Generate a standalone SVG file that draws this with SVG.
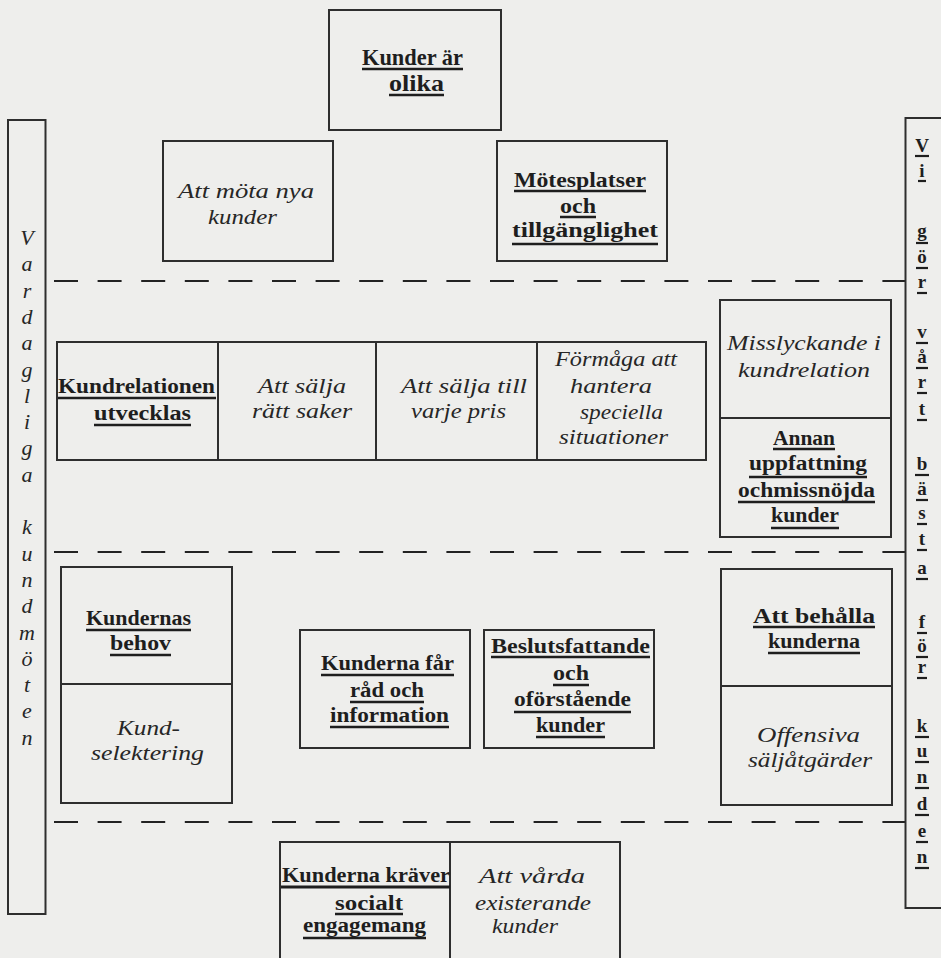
<svg xmlns="http://www.w3.org/2000/svg" width="941" height="958" viewBox="0 0 941 958">
<style>
.bg{fill:#eeeeec}
.box{fill:none;stroke:#2e2e2e;stroke-width:2}
.div{stroke:#2e2e2e;stroke-width:2}
.h{font-family:"Liberation Serif",serif;font-weight:bold;font-size:20px;fill:#1e1e1e}
.ht{font-family:"Liberation Serif",serif;font-weight:bold;font-size:23px;fill:#1e1e1e}
.i{font-family:"Liberation Serif",serif;font-style:italic;font-size:21px;fill:#262626}
.v{font-family:"Liberation Serif",serif;font-style:italic;font-size:22px;fill:#262626;text-anchor:middle}
.r{font-family:"Liberation Serif",serif;font-weight:bold;font-size:19px;fill:#1e1e1e;text-anchor:middle}
.ul{stroke:#1e1e1e;stroke-width:2.6}
.uls{stroke:#1e1e1e;stroke-width:2.2}
.dash{stroke:#222;stroke-width:2;stroke-dasharray:24 19.6;fill:none}
</style>
<rect class="bg" x="0" y="0" width="941" height="958"/>

<g id="dividers">
<line class="dash" x1="54" y1="281" x2="906" y2="281"/>
<line class="dash" x1="54" y1="552" x2="906" y2="552"/>
<line class="dash" x1="54" y1="822" x2="906" y2="822"/>
</g>

<g id="node-vardagliga">
<rect class="box" x="8" y="120" width="37.5" height="794"/>
<text class="v" x="27" y="245">V</text>
<text class="v" x="27" y="271.3">a</text>
<text class="v" x="27" y="297.6">r</text>
<text class="v" x="27" y="323.9">d</text>
<text class="v" x="27" y="350.2">a</text>
<text class="v" x="27" y="376.5">g</text>
<text class="v" x="27" y="402.8">l</text>
<text class="v" x="27" y="429.1">i</text>
<text class="v" x="27" y="455.4">g</text>
<text class="v" x="27" y="481.7">a</text>
<text class="v" x="27" y="534.3">k</text>
<text class="v" x="27" y="560.6">u</text>
<text class="v" x="27" y="586.9">n</text>
<text class="v" x="27" y="613.2">d</text>
<text class="v" x="27" y="639.5">m</text>
<text class="v" x="27" y="665.8">ö</text>
<text class="v" x="27" y="692.1">t</text>
<text class="v" x="27" y="718.4">e</text>
<text class="v" x="27" y="744.7">n</text>
</g>

<g id="node-vi-gor">
<rect class="box" x="905.5" y="118" width="60" height="790"/>
<text class="r" x="922" y="152">V</text><line class="uls" x1="915" y1="156" x2="929" y2="156"/>
<text class="r" x="922" y="177">i</text><line class="uls" x1="918" y1="181" x2="926" y2="181"/>
<text class="r" x="922" y="237">g</text><line class="uls" x1="916" y1="243" x2="928" y2="243"/>
<text class="r" x="922" y="263">ö</text><line class="uls" x1="916" y1="268" x2="928" y2="268"/>
<text class="r" x="922" y="288">r</text><line class="uls" x1="917" y1="293" x2="927" y2="293"/>
<text class="r" x="922" y="338">v</text><line class="uls" x1="916" y1="343" x2="928" y2="343"/>
<text class="r" x="922" y="363">å</text><line class="uls" x1="916" y1="368" x2="928" y2="368"/>
<text class="r" x="922" y="388">r</text><line class="uls" x1="917" y1="393" x2="927" y2="393"/>
<text class="r" x="922" y="415">t</text><line class="uls" x1="917" y1="420" x2="927" y2="420"/>
<text class="r" x="922" y="470">b</text><line class="uls" x1="915" y1="475" x2="929" y2="475"/>
<text class="r" x="922" y="495">ä</text><line class="uls" x1="916" y1="500" x2="928" y2="500"/>
<text class="r" x="922" y="519">s</text><line class="uls" x1="917" y1="524" x2="927" y2="524"/>
<text class="r" x="922" y="545">t</text><line class="uls" x1="917" y1="550" x2="927" y2="550"/>
<text class="r" x="922" y="574">a</text><line class="uls" x1="916" y1="579" x2="928" y2="579"/>
<text class="r" x="922" y="628">f</text><line class="uls" x1="917" y1="633" x2="927" y2="633"/>
<text class="r" x="922" y="652">ö</text><line class="uls" x1="916" y1="657" x2="928" y2="657"/>
<text class="r" x="922" y="673">r</text><line class="uls" x1="917" y1="678" x2="927" y2="678"/>
<text class="r" x="922" y="732">k</text><line class="uls" x1="915" y1="737" x2="929" y2="737"/>
<text class="r" x="922" y="757">u</text><line class="uls" x1="915" y1="762" x2="929" y2="762"/>
<text class="r" x="922" y="783">n</text><line class="uls" x1="915" y1="788" x2="929" y2="788"/>
<text class="r" x="922" y="810">d</text><line class="uls" x1="915" y1="815" x2="929" y2="815"/>
<text class="r" x="922" y="837">e</text><line class="uls" x1="916" y1="842" x2="928" y2="842"/>
<text class="r" x="922" y="863">n</text><line class="uls" x1="915" y1="868" x2="929" y2="868"/>
</g>

<g id="node-kunder-ar-olika">
<rect class="box" x="329" y="10" width="172" height="120"/>
<text class="ht" x="362" y="65" textLength="101" lengthAdjust="spacingAndGlyphs">Kunder är</text>
<line class="ul" x1="362" y1="69" x2="463" y2="69"/>
<text class="ht" x="389" y="91" textLength="55" lengthAdjust="spacingAndGlyphs">olika</text>
<line class="ul" x1="389" y1="95" x2="444" y2="95"/>
</g>

<g id="node-att-mota">
<rect class="box" x="163" y="141" width="170" height="120"/>
<text class="i" x="178" y="198" textLength="136" lengthAdjust="spacingAndGlyphs">Att möta nya</text>
<text class="i" x="208" y="224" textLength="69" lengthAdjust="spacingAndGlyphs">kunder</text>
</g>

<g id="node-motesplatser">
<rect class="box" x="497" y="141" width="170" height="120"/>
<text class="h" x="514" y="187" textLength="132" lengthAdjust="spacingAndGlyphs">Mötesplatser</text>
<line class="ul" x1="514" y1="191" x2="646" y2="191"/>
<text class="h" x="560" y="213" textLength="36" lengthAdjust="spacingAndGlyphs">och</text>
<line class="ul" x1="560" y1="217" x2="596" y2="217"/>
<text class="h" x="512" y="237" textLength="146" lengthAdjust="spacingAndGlyphs">tillgänglighet</text>
<line class="ul" x1="512" y1="244" x2="658" y2="244"/>
</g>

<g id="node-kundrelationen-row">
<rect class="box" x="57" y="342" width="649" height="118"/>
<line class="div" x1="218" y1="342" x2="218" y2="460"/>
<line class="div" x1="376" y1="342" x2="376" y2="460"/>
<line class="div" x1="537" y1="342" x2="537" y2="460"/>
<text class="h" x="58" y="393" textLength="157" lengthAdjust="spacingAndGlyphs">Kundrelationen</text>
<line class="ul" x1="58" y1="398" x2="216" y2="398"/>
<text class="h" x="94" y="420" textLength="97" lengthAdjust="spacingAndGlyphs">utvecklas</text>
<line class="ul" x1="94" y1="425" x2="191" y2="425"/>
<text class="i" x="258" y="393" textLength="88" lengthAdjust="spacingAndGlyphs">Att sälja</text>
<text class="i" x="252" y="418" textLength="100" lengthAdjust="spacingAndGlyphs">rätt saker</text>
<text class="i" x="401" y="393" textLength="126" lengthAdjust="spacingAndGlyphs">Att sälja till</text>
<text class="i" x="411" y="418" textLength="95" lengthAdjust="spacingAndGlyphs">varje pris</text>
<text class="i" x="555" y="366" textLength="122" lengthAdjust="spacingAndGlyphs">Förmåga att</text>
<text class="i" x="570" y="393" textLength="82" lengthAdjust="spacingAndGlyphs">hantera</text>
<text class="i" x="580" y="419" textLength="83" lengthAdjust="spacingAndGlyphs">speciella</text>
<text class="i" x="559" y="444" textLength="109" lengthAdjust="spacingAndGlyphs">situationer</text>
</g>

<g id="node-misslyckande">
<rect class="box" x="720" y="300" width="171" height="237"/>
<line class="div" x1="720" y1="418" x2="891" y2="418"/>
<text class="i" x="727" y="350" textLength="154" lengthAdjust="spacingAndGlyphs">Misslyckande i</text>
<text class="i" x="738" y="377" textLength="132" lengthAdjust="spacingAndGlyphs">kundrelation</text>
<text class="h" x="773" y="445" textLength="62" lengthAdjust="spacingAndGlyphs">Annan</text>
<line class="ul" x1="773" y1="449" x2="835" y2="449"/>
<text class="h" x="749" y="470" textLength="118" lengthAdjust="spacingAndGlyphs">uppfattning</text>
<line class="ul" x1="749" y1="477" x2="867" y2="477"/>
<text class="h" x="738" y="497" textLength="137" lengthAdjust="spacingAndGlyphs">ochmissnöjda</text>
<line class="ul" x1="738" y1="502" x2="875" y2="502"/>
<text class="h" x="771" y="522" textLength="68" lengthAdjust="spacingAndGlyphs">kunder</text>
<line class="ul" x1="771" y1="528" x2="839" y2="528"/>
</g>

<g id="node-kundernas-behov">
<rect class="box" x="61" y="567" width="171" height="236"/>
<line class="div" x1="61" y1="684" x2="232" y2="684"/>
<text class="h" x="86" y="625" textLength="105" lengthAdjust="spacingAndGlyphs">Kundernas</text>
<line class="ul" x1="86" y1="630" x2="191" y2="630"/>
<text class="h" x="110" y="650" textLength="61" lengthAdjust="spacingAndGlyphs">behov</text>
<line class="ul" x1="110" y1="655" x2="171" y2="655"/>
<text class="i" x="117" y="735" textLength="63" lengthAdjust="spacingAndGlyphs">Kund-</text>
<text class="i" x="91" y="760" textLength="113" lengthAdjust="spacingAndGlyphs">selektering</text>
</g>

<g id="node-kunderna-far-rad">
<rect class="box" x="300" y="630" width="170" height="118"/>
<text class="h" x="321" y="670" textLength="133" lengthAdjust="spacingAndGlyphs">Kunderna får</text>
<line class="ul" x1="321" y1="675" x2="454" y2="675"/>
<text class="h" x="350" y="697" textLength="74" lengthAdjust="spacingAndGlyphs">råd och</text>
<line class="ul" x1="350" y1="702" x2="424" y2="702"/>
<text class="h" x="330" y="722" textLength="119" lengthAdjust="spacingAndGlyphs">information</text>
<line class="ul" x1="330" y1="727" x2="449" y2="727"/>
</g>

<g id="node-beslutsfattande">
<rect class="box" x="484" y="630" width="170" height="118"/>
<text class="h" x="491" y="653" textLength="159" lengthAdjust="spacingAndGlyphs">Beslutsfattande</text>
<line class="ul" x1="491" y1="657" x2="650" y2="657"/>
<text class="h" x="553" y="680" textLength="36" lengthAdjust="spacingAndGlyphs">och</text>
<line class="ul" x1="553" y1="685" x2="589" y2="685"/>
<text class="h" x="514" y="706" textLength="117" lengthAdjust="spacingAndGlyphs">oförstående</text>
<line class="ul" x1="514" y1="712" x2="631" y2="712"/>
<text class="h" x="536" y="732" textLength="69" lengthAdjust="spacingAndGlyphs">kunder</text>
<line class="ul" x1="536" y1="737" x2="605" y2="737"/>
</g>

<g id="node-att-behalla">
<rect class="box" x="721" y="569" width="171" height="236"/>
<line class="div" x1="721" y1="686" x2="892" y2="686"/>
<text class="h" x="753" y="623" textLength="122" lengthAdjust="spacingAndGlyphs">Att behålla</text>
<line class="ul" x1="753" y1="627" x2="875" y2="627"/>
<text class="h" x="768" y="648" textLength="92" lengthAdjust="spacingAndGlyphs">kunderna</text>
<line class="ul" x1="768" y1="653" x2="860" y2="653"/>
<text class="i" x="757" y="742" textLength="103" lengthAdjust="spacingAndGlyphs">Offensiva</text>
<text class="i" x="748" y="767" textLength="124" lengthAdjust="spacingAndGlyphs">säljåtgärder</text>
</g>

<g id="node-kunderna-kraver">
<rect class="box" x="280" y="842" width="340" height="140"/>
<line class="div" x1="450" y1="842" x2="450" y2="958"/>
<text class="h" x="282" y="882" textLength="168" lengthAdjust="spacingAndGlyphs">Kunderna kräver</text>
<line class="ul" x1="281" y1="887" x2="450" y2="887" style="stroke-width:3"/>
<text class="h" x="335" y="910" textLength="68" lengthAdjust="spacingAndGlyphs">socialt</text>
<line class="ul" x1="335" y1="914" x2="403" y2="914"/>
<text class="h" x="303" y="932" textLength="123" lengthAdjust="spacingAndGlyphs">engagemang</text>
<line class="ul" x1="303" y1="938" x2="426" y2="938"/>
<text class="i" x="479" y="883" textLength="106" lengthAdjust="spacingAndGlyphs">Att vårda</text>
<text class="i" x="475" y="910" textLength="116" lengthAdjust="spacingAndGlyphs">existerande</text>
<text class="i" x="492" y="933" textLength="66" lengthAdjust="spacingAndGlyphs">kunder</text>
</g>
</svg>
